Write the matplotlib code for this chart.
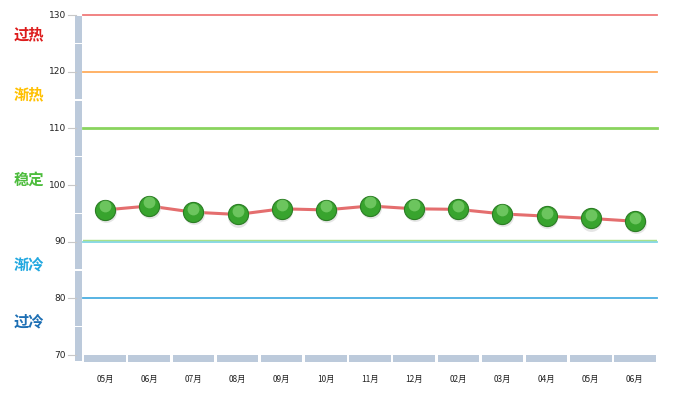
import matplotlib

matplotlib.use("Agg")
import matplotlib.pyplot as plt
from matplotlib.patches import Rectangle
from matplotlib.transforms import ScaledTranslation

# data
months = ["05月", "06月", "07月", "08月", "09月", "10月", "11月",
          "12月", "02月", "03月", "04月", "05月", "06月"]
values = [95.6, 96.3, 95.2, 94.8, 95.8, 95.6, 96.3, 95.8, 95.7, 94.9, 94.5, 94.1, 93.6]

band_levels = [130, 120, 110, 90, 80]
band_colors = ["#f07a7a", "#ffad5c", "#8ad45e", "#7fd6e6", "#4aaee0"]
zone_names = ["过热", "渐热", "稳定", "渐冷", "过冷"]
zone_pos = [126.5, 116, 101, 86, 76]
zone_colors = ["#dd1c1c", "#ffc000", "#4cbc3c", "#22a8e0", "#1d6fb4"]

cjk = ["Noto Sans CJK SC", "DejaVu Sans"]
bar_col = "#bccadb"

fig = plt.figure(figsize=(6.85, 3.97), dpi=100)
ax = fig.add_axes([83 / 685, 42 / 397, 574 / 685, 340 / 397])
n = len(months)
ax.set_xlim(-0.5, n - 0.5)
ax.set_ylim(70, 130)
for s in ax.spines.values():
    s.set_visible(False)
ax.set_xticks([])
ax.set_yticks([])

# threshold lines
for lv, c in zip(band_levels, band_colors):
    lw = 2.0 if lv == 110 else 1.3
    ax.axhline(lv, color=c, lw=lw, zorder=2, clip_on=False)
ax.axhline(90.35, color="#a8e08a", lw=1.0, zorder=2)

# left bar, white gaps halfway between the labelled ticks
tr = ax.get_yaxis_transform()
left_w = 7 / 574
px = 1 / 5.667
edges = [70 - 7 * px, 75, 85, 95, 105, 115, 125, 130]
for lo, hi in zip(edges[:-1], edges[1:]):
    ax.add_patch(Rectangle((-left_w - 0.0015, lo + px * 0.6), left_w, hi - lo - px * 1.2,
                           transform=tr, color=bar_col, clip_on=False, zorder=1, lw=0))
# tick marks and labels
for v in range(70, 131, 10):
    ax.plot([-15 / 574, -left_w], [v, v], transform=tr, color="#c8c8c8", lw=0.8,
            clip_on=False)
    ax.text(-17 / 574, v, str(v), transform=tr, ha="right", va="center",
            fontsize=6.5, color="#222222")

# bottom band segmented by categories
for i in range(n):
    ax.add_patch(Rectangle((i - 0.5 + 0.03, 70 - 7 * px), 0.94, 7 * px,
                           color=bar_col, clip_on=False, zorder=1, lw=0))
    ax.text(i, 70 - 24 * px, months[i], ha="center", va="center",
            fontsize=6, family=cjk, color="#222222")

# zone labels
for name, yv, c in zip(zone_names, zone_pos, zone_colors):
    ax.text(-69 / 574, yv, name, transform=tr, ha="left", va="center",
            fontsize=11, fontweight="bold", family=cjk, color=c)

# series
x = list(range(n))
ax.plot(x, values, color="#e46e6e", lw=2.2, zorder=3)
shadow = ax.transData + ScaledTranslation(0.5 / 72, -1.5 / 72, fig.dpi_scale_trans)
ax.plot(x, values, "o", ms=15, color="#cccccc", alpha=0.5, transform=shadow,
        zorder=3.5, mec="none")
ax.plot(x, values, "o", ms=14.5, mfc="#38a42e", mec="#2b7d24", mew=0.8, zorder=4)
hl = ax.transData + ScaledTranslation(0, 2.6 / 72, fig.dpi_scale_trans)
ax.plot(x, values, "o", ms=8.5, mfc="#8fdc7f", mec="none", alpha=0.6,
        transform=hl, zorder=5)

plt.savefig("out.png", dpi=100)
plt.close()
